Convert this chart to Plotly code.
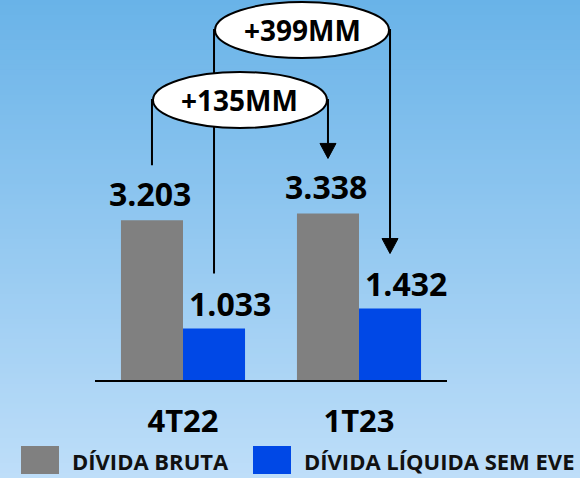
import plotly.graph_objects as go

categories = ["4T22", "1T23"]
divida_bruta = [3203, 3338]
divida_liquida = [1033, 1432]
bruta_labels = ["3.203", "3.338"]
liquida_labels = ["1.033", "1.432"]
variation_labels = ["+135MM", "+399MM"]
legend_names = ["DÍVIDA BRUTA", "DÍVIDA LÍQUIDA SEM EVE"]

W, H = 580, 478
BASE_PX = 380          # baseline, pixels from top
Y_MAX = 7615
K = BASE_PX / Y_MAX    # px per unit (y)
KX = 176               # px per category step (x)
GRAY = "#808080"
BLUE = "#0048E6"
FONT = "Open Sans"
BARGAP = 0.295
OFF = (1 - BARGAP) / 4  # bar centre offset from category centre


def dy(p):
    return p / K


def level(py):
    return (BASE_PX - py) / K


xs = list(range(len(categories)))

fig = go.Figure()
fig.add_trace(go.Bar(x=xs, y=divida_bruta, marker=dict(color=GRAY, line_width=0),
                     name=legend_names[0], showlegend=False, hoverinfo="skip"))
fig.add_trace(go.Bar(x=xs, y=divida_liquida, marker=dict(color=BLUE, line_width=0),
                     name=legend_names[1], showlegend=False, hoverinfo="skip"))

shapes = []
# vertical gradient background
top_c, bot_c = (105, 179, 232), (190, 222, 249)
n = 96
for k in range(n):
    t = (k + 0.5) / n
    c = tuple(round(a + (b - a) * t) for a, b in zip(top_c, bot_c))
    shapes.append(dict(type="rect", xref="paper", yref="paper", layer="below",
                       x0=0, x1=1, y0=1 - (k + 1) / n - 0.002, y1=1 - k / n,
                       fillcolor=f"rgb{c}", line_width=0))

annotations = []

# value labels
for i in xs:
    annotations.append(dict(x=i - OFF, y=divida_bruta[i], text=bruta_labels[i], xshift=-2,
                            yshift=27, showarrow=False, yanchor="middle",
                            font=dict(family=FONT, size=32, color="black", weight="bold")))
    annotations.append(dict(x=i + OFF, y=divida_liquida[i], text=liquida_labels[i], xshift=16,
                            yshift=25, showarrow=False, yanchor="middle",
                            font=dict(family=FONT, size=32, color="black", weight="bold")))

# brackets: (+399 first so the +135 ellipse sits on top of its line)
brackets = [
    (1, +OFF, divida_liquida, 30),
    (0, -OFF, divida_bruta, 100),
]
for idx, off, series, lvl_px in brackets:
    xl, xr = 0 + off, 1 + off
    yl = series[0] + dy(55)
    tip = series[1] + dy(55)
    lv = level(lvl_px)
    head = dy(15)
    hw = 8 / KX
    shapes.append(dict(type="path", xref="x", yref="y",
                       path=f"M {xl},{yl} L {xl},{lv} L {xr},{lv} L {xr},{tip + head}",
                       line=dict(color="black", width=2)))
    shapes.append(dict(type="path", xref="x", yref="y",
                       path=f"M {xr - hw},{tip + head} L {xr + hw},{tip + head} L {xr},{tip} Z",
                       fillcolor="black", line=dict(color="black", width=1)))
    shapes.append(dict(type="circle", xref="x", yref="y",
                       x0=xl + 1 / KX, x1=xr - 1 / KX, y0=lv - dy(28), y1=lv + dy(28),
                       fillcolor="white", line=dict(color="black", width=2)))
    annotations.append(dict(x=(xl + xr) / 2, y=lv, text=variation_labels[idx], showarrow=False,
                            font=dict(family=FONT, size=28, color="black", weight="bold")))

# legend
legend_items = [(21, GRAY, 70), (253, BLUE, 302)]
for (sx, color, tx), name in zip(legend_items, legend_names):
    shapes.append(dict(type="rect", xref="paper", yref="paper",
                       x0=sx / W, x1=(sx + 38) / W, y0=1 - 474 / H, y1=1 - 446 / H,
                       fillcolor=color, line_width=0))
    annotations.append(dict(xref="paper", yref="paper", x=tx / W, y=1 - 461 / H,
                            text=name, showarrow=False, xanchor="left", yanchor="middle",
                            font=dict(family=FONT, size=22, color="#111111", weight="bold")))

fig.update_layout(
    width=W, height=H,
    margin=dict(l=0, r=0, t=0, b=0),
    barmode="group", bargap=BARGAP, bargroupgap=0,
    paper_bgcolor="rgb(150,200,240)",
    plot_bgcolor="rgba(0,0,0,0)",
    showlegend=False,
    shapes=shapes,
    annotations=annotations,
    xaxis=dict(domain=[95 / W, 447 / W], range=[-0.5, 1.5], tickvals=xs, ticktext=categories,
               showline=True, linecolor="black", linewidth=2, showgrid=False, zeroline=False,
               ticks="", ticklabelstandoff=13,
               tickfont=dict(family=FONT, size=31, color="black", weight="bold")),
    yaxis=dict(domain=[1 - BASE_PX / H, 1], range=[0, Y_MAX], visible=False),
)

fig.write_html("out.html", config={"displayModeBar": False},
               post_script="document.body.style.margin='0';document.body.style.overflow='hidden';")
